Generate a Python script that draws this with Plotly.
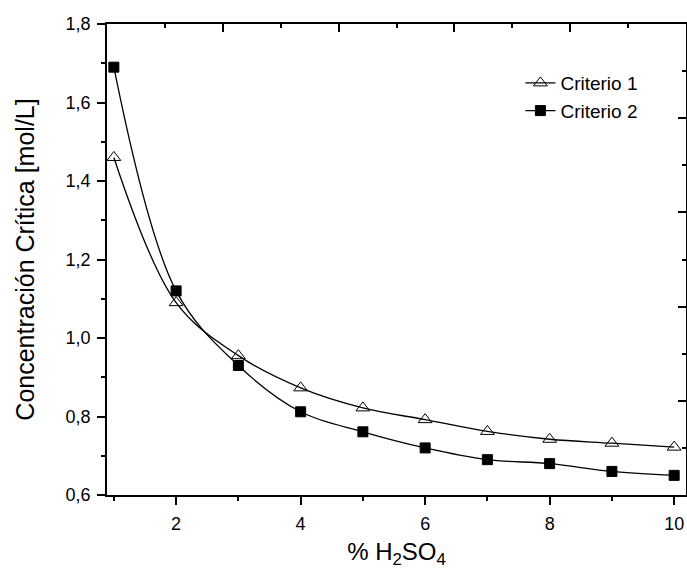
import plotly.graph_objects as go

x_pct = [1, 2, 3, 4, 5, 6, 7, 8, 9, 10]
criterio1 = [1.46, 1.09, 0.955, 0.873, 0.822, 0.792, 0.762, 0.742, 0.732, 0.722]
criterio2 = [1.69, 1.12, 0.93, 0.812, 0.761, 0.72, 0.69, 0.68, 0.66, 0.65]
series_names = ["Criterio 1", "Criterio 2"]
y_tickvals = [0.6, 0.8, 1.0, 1.2, 1.4, 1.6, 1.8]
x_tickvals = [2, 4, 6, 8, 10]

FONT = "Liberation Sans, Arial, sans-serif"

fig = go.Figure()
fig.add_trace(go.Scatter(
    x=x_pct, y=criterio1, name=series_names[0], mode="lines+markers",
    line=dict(color="black", width=1.3, shape="spline", smoothing=1.0),
    marker=dict(symbol="triangle-up-open", size=12, color="black",
                line=dict(color="black", width=1))))
fig.add_trace(go.Scatter(
    x=x_pct, y=criterio2, name=series_names[1], mode="lines+markers",
    line=dict(color="black", width=1.3, shape="spline", smoothing=1.0),
    marker=dict(symbol="square", size=10, color="black",
                line=dict(color="black", width=1))))
# empty helper trace so the mirrored top/right axes are drawn
fig.add_trace(go.Scatter(x=[], y=[], xaxis="x2", yaxis="y2",
                         showlegend=False, hoverinfo="skip"))

fig.update_layout(
    width=687, height=569,
    margin=dict(l=107, r=1, t=24, b=74),
    paper_bgcolor="white", plot_bgcolor="white",
    separators=",.",
    font=dict(family=FONT, size=18, color="black"),
    showlegend=True,
    legend=dict(x=0.714, y=0.915, xanchor="left", yanchor="top",
                bgcolor="rgba(0,0,0,0)", borderwidth=0,
                font=dict(family=FONT, size=19, color="black"),
                tracegroupgap=0),
    xaxis=dict(range=[0.89, 10.19], tickvals=x_tickvals, ticks="outside",
               automargin=False,
               ticklen=8, tickwidth=1.5, tickcolor="black",
               showline=True, linecolor="black", linewidth=1.5,
               showgrid=False, zeroline=False,
               minor=dict(dtick=1, tick0=0, ticks="outside", ticklen=4,
                          tickwidth=1.5, tickcolor="black"),
               tickfont=dict(size=18), ticklabelstandoff=4,
               title=dict(text="% H<sub>2</sub>SO<sub>4</sub>",
                          font=dict(size=24), standoff=27)),
    yaxis=dict(range=[0.6, 1.8], tickvals=y_tickvals, tickformat=".1f",
               automargin=False,
               ticks="outside", ticklen=8, tickwidth=1.5, tickcolor="black",
               showline=True, linecolor="black", linewidth=1.5,
               showgrid=False, zeroline=False,
               minor=dict(dtick=0.1, tick0=0, ticks="outside", ticklen=4,
                          tickwidth=1.5, tickcolor="black"),
               tickfont=dict(size=18), ticklabelstandoff=3,
               title=dict(text="Concentración Crítica [mol/L]",
                          font=dict(size=25), standoff=24)),
    xaxis2=dict(overlaying="x", side="top", range=[0, 5], dtick=1, tick0=0,
                automargin=False,
                ticks="inside", ticklen=8, tickwidth=1.5, tickcolor="black",
                showticklabels=False, showline=True, linecolor="black",
                linewidth=1.5, showgrid=False, zeroline=False,
                minor=dict(dtick=0.5, tick0=0, ticks="inside", ticklen=4,
                           tickwidth=1.5, tickcolor="black")),
    yaxis2=dict(overlaying="y", side="right", range=[0, 5], dtick=1, tick0=0,
                automargin=False,
                ticks="inside", ticklen=8, tickwidth=1.5, tickcolor="black",
                showticklabels=False, showline=True, linecolor="black",
                linewidth=1.5, showgrid=False, zeroline=False,
                minor=dict(dtick=0.5, tick0=0, ticks="inside", ticklen=4,
                           tickwidth=1.5, tickcolor="black")),
)

fig.write_html("out.html",
               config={"displayModeBar": False},
               post_script="document.body.style.margin='0';"
                           "document.body.style.overflow='hidden';")
